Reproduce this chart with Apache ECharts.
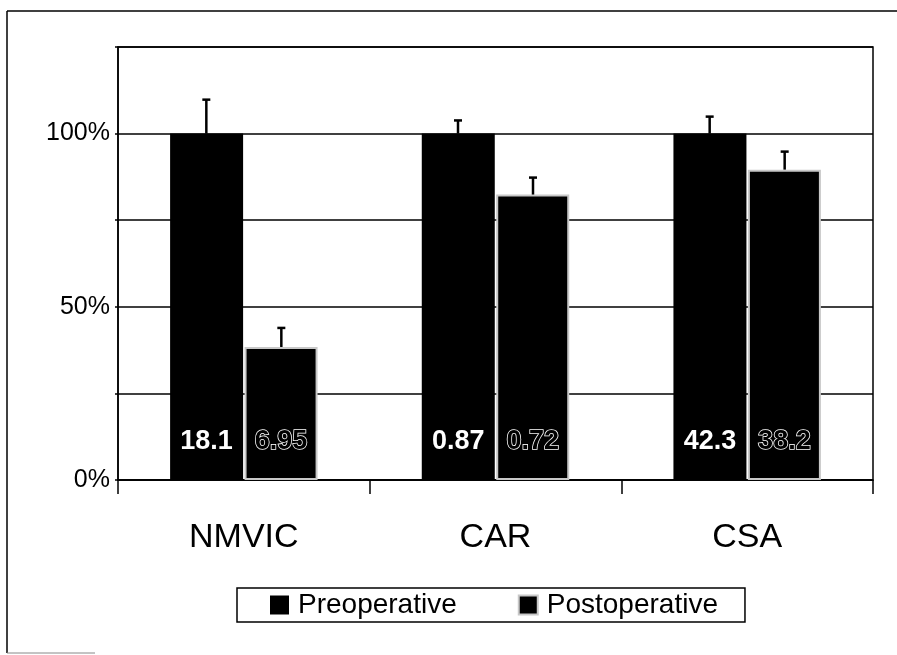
<!DOCTYPE html>
<html><head><meta charset="utf-8">
<script src="https://cdn.jsdelivr.net/npm/echarts@6/dist/echarts.min.js"></script>
<style>html,body{margin:0;padding:0;background:#fff}#c{width:897px;height:655px}</style>
</head><body><div id="c"></div>
<script>
const categories = ['NMVIC', 'CAR', 'CSA'];
const seriesNames = ['Preoperative', 'Postoperative'];
const preValues = [100, 100, 100];
const postValues = [38.4, 82.4, 89.6];
const preErrTop = [109.8, 103.8, 104.9];
const postErrTop = [43.9, 87.3, 94.8];
const preLabels = ['18.1', '0.87', '42.3'];
const postLabels = ['6.95', '0.72', '38.2'];
const yTickLabels = [0, 50, 100];

const FONT = 'Liberation Sans, Arial, sans-serif';
const BAR_W = 73;

function errSeries(name, tops, vals, sign) {
  return {
    type: 'custom', name: name + ' error', silent: true, z: 5,
    data: categories.map((c, i) => [i, vals[i], tops[i]]),
    renderItem: function (params, api) {
      const base = api.coord([api.value(0), api.value(1)]);
      const top = api.coord([api.value(0), api.value(2)]);
      const x = base[0] + sign * (BAR_W / 2 + 1);
      const st = { stroke: '#000', lineWidth: 2.5 };
      return { type: 'group', children: [
        { type: 'line', shape: { x1: x, y1: base[1], x2: x, y2: top[1] }, style: st },
        { type: 'line', shape: { x1: x - 4, y1: top[1], x2: x + 4, y2: top[1] }, style: st }
      ]};
    }
  };
}

const chart = echarts.init(document.getElementById('c'));
chart.setOption({
  backgroundColor: '#fff',
  animation: false,
  textStyle: { fontFamily: FONT },
  graphic: [
    { type: 'line', shape: { x1: 7, y1: 11, x2: 897, y2: 11 }, style: { stroke: '#000', lineWidth: 1.5 } },
    { type: 'line', shape: { x1: 7, y1: 11, x2: 7, y2: 653 }, style: { stroke: '#000', lineWidth: 1.5 } },
    { type: 'line', shape: { x1: 7, y1: 653, x2: 95, y2: 653 }, style: { stroke: '#888', lineWidth: 1 } }
  ],
  grid: { left: 118, right: 24, top: 47, bottom: 175, show: true, borderColor: '#000', borderWidth: 1.5, backgroundColor: 'transparent' },
  legend: {
    data: seriesNames,
    left: 237, top: 588,
    padding: [3, 27, 3, 33],
    borderColor: '#000', borderWidth: 1.5,
    itemWidth: 19, itemHeight: 19, itemGap: 61,
    textStyle: { fontSize: 28, color: '#000', fontFamily: FONT, padding: [0, 0, 0, 4] },
    icon: 'rect'
  },
  xAxis: {
    type: 'category', data: categories,
    axisLine: { lineStyle: { color: '#000', width: 1.5 } },
    axisTick: { show: true, length: 14, lineStyle: { color: '#000', width: 1.5 } },
    axisLabel: { fontSize: 34, color: '#000', margin: 41, fontFamily: FONT }
  },
  yAxis: {
    type: 'value', min: 0, max: 125, interval: 25,
    axisLine: { show: true, lineStyle: { color: '#000', width: 1.5 } },
    axisTick: { show: true, length: 3, lineStyle: { color: '#000', width: 1.5 } },
    splitLine: { lineStyle: { color: '#000', width: 1.5 } },
    axisLabel: {
      fontSize: 25, color: '#000', margin: 8, fontFamily: FONT,
      formatter: v => yTickLabels.includes(v) ? v + '%' : ''
    }
  },
  series: [
    {
      name: seriesNames[0], type: 'bar', data: preValues, barWidth: BAR_W, barGap: '2%',
      itemStyle: { color: '#000' },
      label: { show: true, position: 'insideBottom', distance: 25, fontSize: 27, fontWeight: 'bold', color: '#fff', fontFamily: FONT,
        formatter: p => preLabels[p.dataIndex] }
    },
    {
      name: seriesNames[1], type: 'bar', data: postValues, barWidth: BAR_W,
      itemStyle: { color: '#000', borderColor: '#c8c8c8', borderWidth: 2 },
      label: { show: true, position: 'insideBottom', distance: 25, fontSize: 27, fontWeight: 'bold', color: '#000',
        textBorderColor: '#fff', textBorderWidth: 1.5, fontFamily: FONT,
        formatter: p => postLabels[p.dataIndex] }
    },
    errSeries('pre', preErrTop, preValues, -1),
    errSeries('post', postErrTop, postValues, 1)
  ]
});
</script></body></html>
